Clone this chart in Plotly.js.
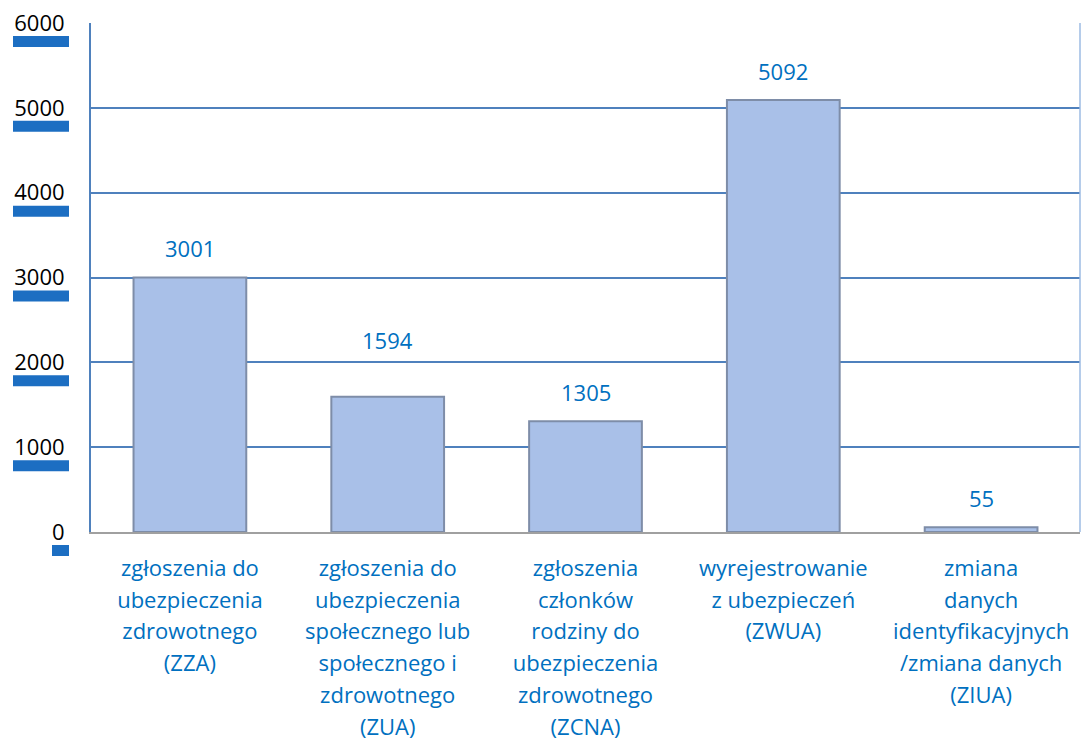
<!DOCTYPE html>
<html>
<head>
<meta charset="utf-8">
<script src="https://cdn.plot.ly/plotly-3.0.1.min.js"></script>
<style>html,body{margin:0;padding:0;background:#fff;}#chart{width:1081px;height:740px;}</style>
</head>
<body>
<div id="chart"></div>
<script>
var categories = [
  "zgłoszenia do<br>ubezpieczenia<br>zdrowotnego<br>(ZZA)",
  "zgłoszenia do<br>ubezpieczenia<br>społecznego lub<br>społecznego i<br>zdrowotnego<br>(ZUA)",
  "zgłoszenia<br>członków<br>rodziny do<br>ubezpieczenia<br>zdrowotnego<br>(ZCNA)",
  "wyrejestrowanie<br>z ubezpieczeń<br>(ZWUA)",
  "zmiana<br>danych<br>identyfikacyjnych<br>/zmiana danych<br>(ZIUA)"
];
var values = [3001, 1594, 1305, 5092, 55];
var yTicks = [0, 1000, 2000, 3000, 4000, 5000, 6000];
var yTickLabels = ["0", "1000", "2000", "3000", "4000", "5000", "6000"];
var yMax = 6000;

var FONT = "'Open Sans', 'Liberation Sans', sans-serif";
var idx = categories.map(function(_, i){ return i; });
// label for the second bar sits higher in the original
var labelShift = {1: 28};

var tickText = categories.map(function(c){
  return c.split('<br>').map(function(l){
    return "<span style='font-size:22px'>" + l + "</span>";
  }).join('<br>');
});

var traces = [
  {
    type: 'bar', x: idx, y: values, width: 0.57,
    marker: {color: '#A9C0E8', line: {color: '#7E8DA8', width: 2}},
    hoverinfo: 'none', showlegend: false
  }
];

var annotations = [];
values.forEach(function(v, i){
  annotations.push({
    x: i, y: v, xref: 'x', yref: 'y', text: String(v), showarrow: false,
    yanchor: 'bottom', yshift: 12 + (labelShift[i] || 0),
    font: {family: FONT, size: 22, color: '#0070C0'}
  });
});

var shapes = [
  {type: 'line', xref: 'paper', yref: 'paper', x0: 1, x1: 1, y0: 0, y1: 1,
   line: {color: '#9DBBE3', width: 1.5}}
];
yTicks.forEach(function(t, i){
  var w = yTickLabels[i].length * 13 + 4;
  shapes.push({
    type: 'rect', xref: 'paper', yref: 'paper', xsizemode: 'pixel', ysizemode: 'pixel',
    xanchor: 0, yanchor: t / yMax, x0: -22 - w, x1: -22, y0: -13, y1: -24,
    fillcolor: '#1C6EC2', line: {width: 0}, layer: 'below'
  });
});

var layout = {
  width: 1081, height: 740,
  margin: {l: 91, r: 1, t: 23, b: 208},
  paper_bgcolor: '#ffffff', plot_bgcolor: '#ffffff',
  showlegend: false,
  xaxis: {
    tickvals: idx, ticktext: tickText, range: [-0.5, 4.5],
    showgrid: false, zeroline: false,
    showline: true, linecolor: '#A0A0A0', linewidth: 2,
    ticks: 'outside', ticklen: 12, tickcolor: 'rgba(0,0,0,0)',
    tickfont: {family: FONT, size: 24.6, color: '#0070C0'}
  },
  yaxis: {
    range: [0, yMax], tickvals: yTicks, ticktext: yTickLabels,
    showgrid: true, gridcolor: '#4F81BD', gridwidth: 2,
    zeroline: false, showline: true, linecolor: '#4F81BD', linewidth: 2,
    ticks: 'outside', ticklen: 20, tickcolor: 'rgba(0,0,0,0)',
    tickfont: {family: FONT, size: 22, color: '#000000'}
  },
  shapes: shapes,
  annotations: annotations
};

Plotly.newPlot('chart', traces, layout, {displayModeBar: false, staticPlot: true});
</script>
</body>
</html>
